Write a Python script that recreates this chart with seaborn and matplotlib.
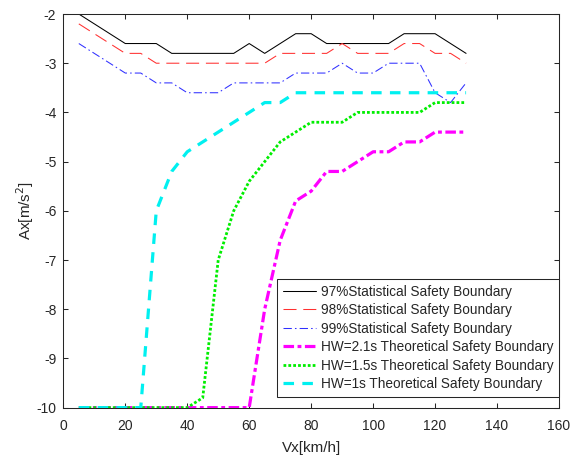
import matplotlib
matplotlib.use("Agg")
import matplotlib.pyplot as plt
import seaborn as sns
import pandas as pd

# Speed grid (km/h) shared by all boundaries
vx = [5, 10, 15, 20, 25, 30, 35, 40, 45, 50, 55, 60, 65, 70, 75,
      80, 85, 90, 95, 100, 105, 110, 115, 120, 125, 130]

# Statistical safety boundaries (m/s^2)
stat_97 = [-2.0, -2.2, -2.4, -2.6, -2.6, -2.6, -2.8, -2.8, -2.8, -2.8, -2.8, -2.6, -2.8,
           -2.6, -2.4, -2.4, -2.6, -2.6, -2.6, -2.6, -2.6, -2.4, -2.4, -2.4, -2.6, -2.8]
stat_98 = [-2.2, -2.4, -2.6, -2.8, -2.8, -3.0, -3.0, -3.0, -3.0, -3.0, -3.0, -3.0, -3.0,
           -2.8, -2.8, -2.8, -2.8, -2.6, -2.8, -2.8, -2.8, -2.6, -2.6, -2.8, -2.8, -3.0]
stat_99 = [-2.6, -2.8, -3.0, -3.2, -3.2, -3.4, -3.4, -3.6, -3.6, -3.6, -3.4, -3.4, -3.4,
           -3.4, -3.2, -3.2, -3.2, -3.0, -3.2, -3.2, -3.0, -3.0, -3.0, -3.6, -3.8, -3.4]

# Theoretical safety boundaries for different headways (m/s^2)
hw_21 = [-10.0, -10.0, -10.0, -10.0, -10.0, -10.0, -10.0, -10.0, -10.0, -10.0, -10.0, -10.0, -8.0,
         -6.6, -5.8, -5.6, -5.2, -5.2, -5.0, -4.8, -4.8, -4.6, -4.6, -4.4, -4.4, -4.4]
hw_15 = [-10.0, -10.0, -10.0, -10.0, -10.0, -10.0, -10.0, -10.0, -9.8, -7.0, -6.0, -5.4, -5.0,
         -4.6, -4.4, -4.2, -4.2, -4.2, -4.0, -4.0, -4.0, -4.0, -4.0, -3.8, -3.8, -3.8]
hw_10 = [-10.0, -10.0, -10.0, -10.0, -10.0, -6.0, -5.2, -4.8, -4.6, -4.4, -4.2, -4.0, -3.8,
         -3.8, -3.6, -3.6, -3.6, -3.6, -3.6, -3.6, -3.6, -3.6, -3.6, -3.6, -3.6, -3.6]

labels = ["97%Statistical Safety Boundary",
          "98%Statistical Safety Boundary",
          "99%Statistical Safety Boundary",
          "HW=2.1s Theoretical Safety Boundary",
          "HW=1.5s Theoretical Safety Boundary",
          "HW=1s Theoretical Safety Boundary"]
series = [stat_97, stat_98, stat_99, hw_21, hw_15, hw_10]

x_ticks = [0, 20, 40, 60, 80, 100, 120, 140, 160]
y_ticks = [-10, -9, -8, -7, -6, -5, -4, -3, -2]

sns.set_theme(style="white")
plt.rcParams["font.family"] = ["Liberation Sans", "DejaVu Sans"]

styles = [
    dict(color="#000000", linewidth=0.75, linestyle="-"),
    dict(color="#ff3030", linewidth=0.75, linestyle=(0, (12.5, 6.5))),
    dict(color="#3030ff", linewidth=0.75, linestyle=(0, (8, 3, 1.5, 3))),
    dict(color="#ff00ff", linewidth=2.3, linestyle=(0, (3.3, 1.1, 1.2, 1.1))),
    dict(color="#00ee00", linewidth=2.0, linestyle=(0, (1.0, 0.75))),
    dict(color="#00f0f0", linewidth=2.3, linestyle=(0, (3.3, 2.6))),
]

fig = plt.figure(figsize=(5.73, 4.58), dpi=100)
ax = fig.add_axes([0.1105, 0.110, 0.8651, 0.8594])

for lab, vals, st in zip(labels, series, styles):
    df = pd.DataFrame({"Vx": vx, "Ax": vals})
    sns.lineplot(data=df, x="Vx", y="Ax", ax=ax, label=lab,
                 estimator=None, sort=False, **st)

ax.set_xlim(0, 160)
ax.set_ylim(-10, -2)
ax.set_xticks(x_ticks)
ax.set_yticks(y_ticks)
ax.set_xticklabels([str(t) for t in x_ticks])
ax.set_yticklabels([str(t) for t in y_ticks])

for sp in ax.spines.values():
    sp.set_visible(True)
    sp.set_color("#262626")
    sp.set_linewidth(0.75)

ax.tick_params(axis="both", which="major", direction="in", length=3.6, width=0.75,
               color="#262626", labelsize=10, labelcolor="#262626",
               top=True, right=True, bottom=True, left=True)
ax.tick_params(axis="x", pad=8)
ax.tick_params(axis="y", pad=5)

ax.set_xlabel("Vx[km/h]", fontsize=11, color="#262626", labelpad=6)
ax.set_ylabel("Ax[m/s$^2$]", fontsize=11, color="#262626", labelpad=0)

leg = ax.legend(loc="lower right", bbox_to_anchor=(1.0, 0.028), borderaxespad=0,
                fontsize=9.8, frameon=True, fancybox=False, shadow=False,
                handlelength=2.4, handletextpad=0.4, labelspacing=0.33,
                borderpad=0.4, framealpha=1)
leg.get_frame().set_edgecolor("#262626")
leg.get_frame().set_linewidth(0.75)
for t in leg.get_texts():
    t.set_color("#262626")

fig.savefig("out.png", dpi=100)
